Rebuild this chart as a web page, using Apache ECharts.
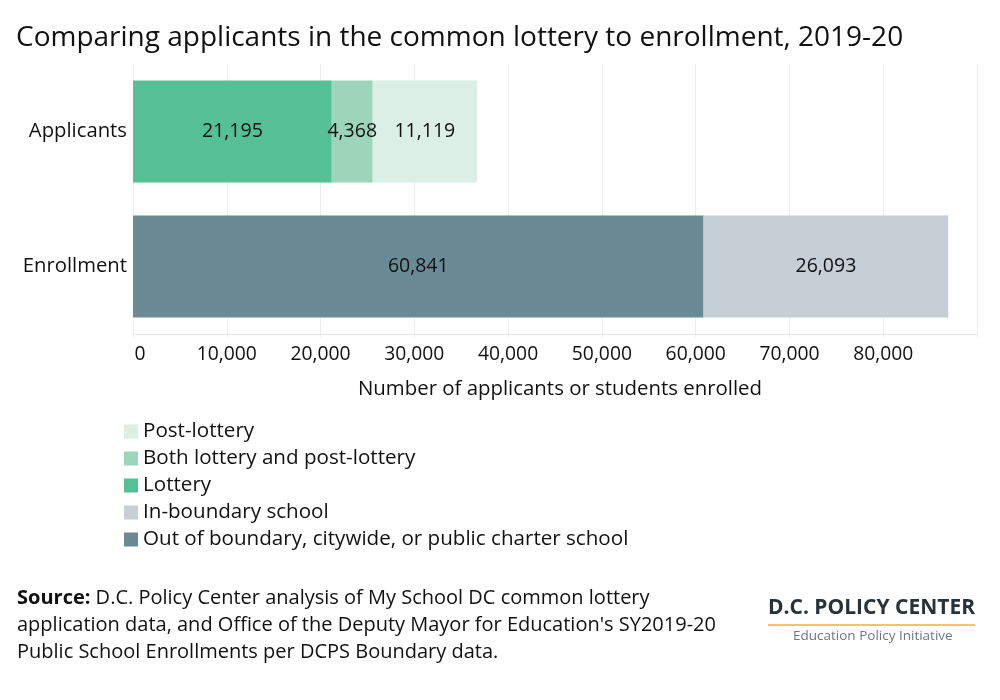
<!DOCTYPE html>
<html>
<head>
<meta charset="utf-8">
<script src="https://cdn.jsdelivr.net/npm/echarts@6/dist/echarts.min.js"></script>
<style>
html,body{margin:0;padding:0;background:#fff;}
#main{width:1000px;height:700px;}
</style>
</head>
<body>
<div id="main"></div>
<script>
const categories = ['Applicants', 'Enrollment'];
const lottery = [21195, null];
const bothLottery = [4368, null];
const postLottery = [11119, null];
const outOfBoundary = [null, 60841];
const inBoundary = [null, 26093];
const tickValues = [0, 10000, 20000, 30000, 40000, 50000, 60000, 70000, 80000];

const FONT = '"Open Sans", Lato, sans-serif';
const colors = {
  lottery: '#55bf95',
  both: '#9dd5bb',
  post: '#dbefe4',
  out: '#6a8a95',
  inb: '#c6ced6'
};

const chart = echarts.init(document.getElementById('main'), null, {renderer: 'canvas'});

function fmt(v) { return v.toLocaleString('en-US'); }

const labelCfg = {
  show: true,
  position: 'inside',
  color: '#111',
  fontFamily: FONT,
  fontSize: 19.5,
  formatter: p => fmt(p.value)
};

function mk(name, data, color) {
  return {
    name, type: 'bar', stack: 'total', data,
    barWidth: 102,
    itemStyle: {color},
    label: labelCfg,
    emphasis: {disabled: true}
  };
}

chart.setOption({
  animation: false,
  textStyle: {fontFamily: FONT},
  title: {
    text: 'Comparing applicants in the common lottery to enrollment, 2019-20',
    left: 16, top: 24, padding: 0,
    textStyle: {fontFamily: FONT, fontSize: 28, fontWeight: 'normal', color: '#111'}
  },
  grid: {left: 133, right: 23, top: 64, bottom: 366, containLabel: false},
  xAxis: {
    type: 'value', min: 0, max: 90000, interval: 10000,
    name: 'Number of applicants or students enrolled',
    nameLocation: 'middle', nameGap: 45,
    nameTextStyle: {fontFamily: FONT, fontSize: 20.4, color: '#111', padding: [0, 0, 0, 10]},
    axisLine: {show: true, lineStyle: {color: '#e8e8e8'}},
    axisTick: {show: true, length: 4, lineStyle: {color: '#eeeeee'}},
    splitLine: {show: true, lineStyle: {color: '#eeeeee'}},
    axisLabel: {
      fontFamily: FONT, fontSize: 19.3, color: '#111', margin: 11,
      formatter: v => tickValues.indexOf(v) === -1 ? '' : (v === 0 ? '{z|0}' : fmt(v)),
      rich: {z: {fontFamily: FONT, fontSize: 19.3, color: '#111', padding: [0, 0, 0, 14]}}
    }
  },
  yAxis: {
    type: 'category', data: categories, inverse: true,
    axisLine: {show: false}, axisTick: {show: false},
    axisLabel: {fontFamily: FONT, fontSize: 20.3, color: '#111', margin: 6}
  },
  legend: {
    orient: 'vertical', left: 124, top: 421, padding: 0,
    itemWidth: 14, itemHeight: 14, itemGap: 6,
    icon: 'rect',
    selectedMode: false,
    data: ['Post-lottery', 'Both lottery and post-lottery', 'Lottery', 'In-boundary school', 'Out of boundary, citywide, or public charter school'],
    textStyle: {fontFamily: FONT, fontSize: 20.6, color: '#111', lineHeight: 21}
  },
  series: [
    mk('Lottery', lottery, colors.lottery),
    mk('Both lottery and post-lottery', bothLottery, colors.both),
    mk('Post-lottery', postLottery, colors.post),
    mk('Out of boundary, citywide, or public charter school', outOfBoundary, colors.out),
    mk('In-boundary school', inBoundary, colors.inb)
  ],
  graphic: [
    {
      type: 'text', left: 17, top: 585,
      style: {
        text: '{b|Source:} D.C. Policy Center analysis of My School DC common lottery\napplication data, and Office of the Deputy Mayor for Education\'s SY2019-20\nPublic School Enrollments per DCPS Boundary data.',
        fontFamily: FONT, fontSize: 20, fill: '#111', lineHeight: 27,
        rich: {b: {fontFamily: FONT, fontSize: 20, fontWeight: 'bold', fill: '#111', lineHeight: 27}}
      }
    },
    {
      type: 'text', left: 768, top: 598,
      style: {
        text: 'D.C. POLICY CENTER',
        fontFamily: FONT, fontSize: 21, fontWeight: 'bold', fill: '#27333b'
      }
    },
    {
      type: 'rect', left: 768, top: 624,
      shape: {width: 207, height: 2},
      style: {fill: '#f4c65a'}
    },
    {
      type: 'text', left: 793, top: 629,
      style: {
        text: 'Education Policy Initiative',
        fontFamily: FONT, fontSize: 13.5, fill: '#6c7782'
      }
    }
  ]
});
</script>
</body>
</html>
